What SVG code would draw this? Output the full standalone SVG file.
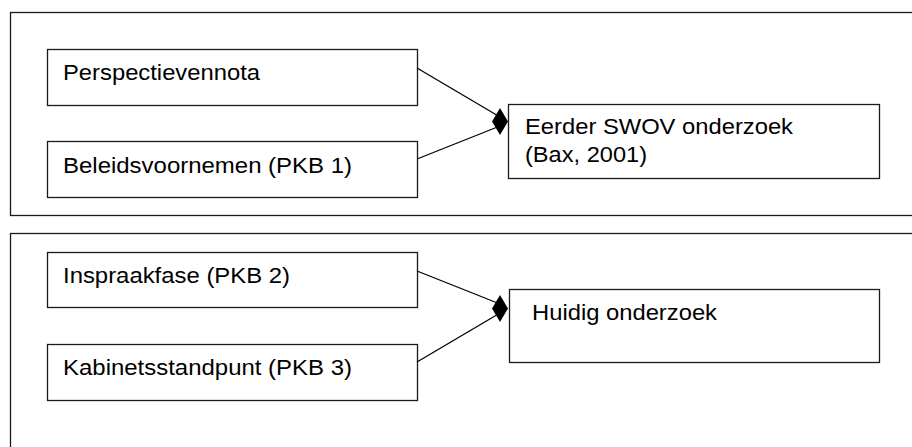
<svg xmlns="http://www.w3.org/2000/svg" width="912" height="447" viewBox="0 0 912 447">
<style>
rect{fill:#fff;stroke:#1a1a1a;stroke-width:1.3}
.frame{fill:none}
text{font-family:"Liberation Sans",Arial,sans-serif;font-size:22px;fill:#000}
.c line{stroke:#000;stroke-width:1.3}
.c polygon{fill:#000}
</style>
<g id="frame1"><rect class="frame" x="10.5" y="12.5" width="912" height="203"/></g>
<g id="frame2"><rect class="frame" x="10.5" y="233.5" width="912" height="230"/></g>
<g id="n1"><rect x="47.5" y="49.5" width="370" height="56"/><text x="63" y="80" textLength="197" lengthAdjust="spacingAndGlyphs">Perspectievennota</text></g>
<g id="n2"><rect x="47.5" y="141.5" width="370" height="56"/><text x="63" y="173" textLength="289" lengthAdjust="spacingAndGlyphs">Beleidsvoornemen (PKB 1)</text></g>
<g id="n3"><rect x="508.5" y="104.5" width="371" height="74"/><text x="525" y="134" textLength="268" lengthAdjust="spacingAndGlyphs">Eerder SWOV onderzoek</text><text x="525" y="162" textLength="122" lengthAdjust="spacingAndGlyphs">(Bax, 2001)</text></g>
<g id="n4"><rect x="47.5" y="252.5" width="370" height="55"/><text x="63" y="283" textLength="227" lengthAdjust="spacingAndGlyphs">Inspraakfase (PKB 2)</text></g>
<g id="n5"><rect x="47.5" y="344.5" width="370" height="56"/><text x="63" y="375" textLength="289" lengthAdjust="spacingAndGlyphs">Kabinetsstandpunt (PKB 3)</text></g>
<g id="n6"><rect x="509.5" y="289.5" width="370" height="73"/><text x="532" y="320" textLength="185" lengthAdjust="spacingAndGlyphs">Huidig onderzoek</text></g>
<g class="c" id="connectors">
<line x1="417" y1="68" x2="500" y2="117"/>
<line x1="417" y1="159" x2="500" y2="126"/>
<polygon points="492,121.5 500,108 508,121.5 500,135"/>
<line x1="417" y1="271" x2="500" y2="304"/>
<line x1="417" y1="362" x2="500" y2="313"/>
<polygon points="492,308.5 500,295 508,308.5 500,322"/>
</g>
</svg>
